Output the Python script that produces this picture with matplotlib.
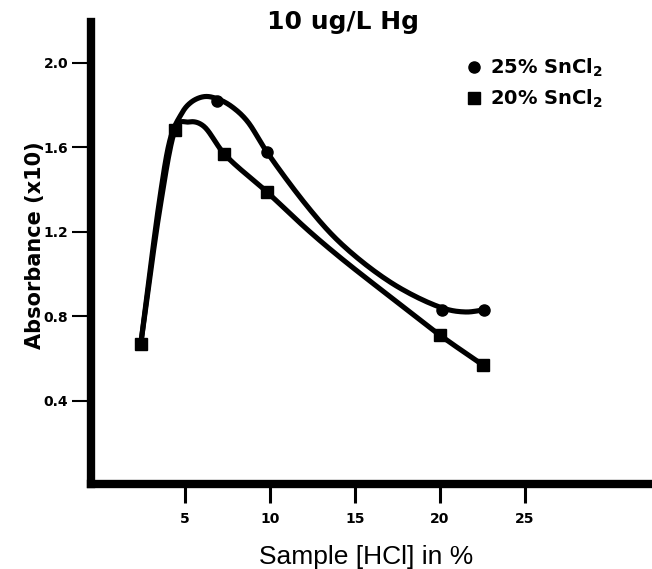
import numpy as np
import matplotlib.pyplot as plt

# puntos medidos (marcadores)
hcl_25 = [6.9, 9.8, 20.1, 22.6]
abs_25 = [1.82, 1.58, 0.83, 0.83]
hcl_20 = [2.4, 4.4, 7.3, 9.8, 20.0, 22.5]
abs_20 = [0.67, 1.68, 1.57, 1.39, 0.71, 0.57]

# trazo de las curvas dibujadas a mano
curva_25_x = [2.4, 3.5, 4.1, 4.8, 5.3, 6.1, 6.9, 7.8, 8.7, 9.8, 12.2, 14.1, 17.1, 20.1, 21.5, 22.6]
curva_25_y = [0.67, 1.35, 1.63, 1.76, 1.81, 1.84, 1.83, 1.79, 1.72, 1.58, 1.32, 1.15, 0.96, 0.84, 0.82, 0.83]
curva_20_x = [2.4, 3.5, 4.4, 5.2, 6.1, 7.3, 9.8, 12.2, 14.1, 17.1, 20.0, 22.5]
curva_20_y = [0.67, 1.30, 1.68, 1.72, 1.70, 1.57, 1.39, 1.21, 1.08, 0.89, 0.71, 0.57]

xticks = [5, 10, 15, 20, 25]
yticks = [0.4, 0.8, 1.2, 1.6, 2.0]


def suavizar(x, y, n=20):
    # catmull-rom centripeto entre los puntos del trazo
    p = np.column_stack([x, y]).astype(float)
    p = np.vstack([2 * p[0] - p[1], p, 2 * p[-1] - p[-2]])
    out = []
    for i in range(1, len(p) - 2):
        p0, p1, p2, p3 = p[i - 1], p[i], p[i + 1], p[i + 2]
        t0 = 0.0
        t1 = t0 + np.linalg.norm(p1 - p0) ** 0.5
        t2 = t1 + np.linalg.norm(p2 - p1) ** 0.5
        t3 = t2 + np.linalg.norm(p3 - p2) ** 0.5
        t = np.linspace(t1, t2, n)[:, None]
        a1 = (t1 - t) / (t1 - t0) * p0 + (t - t0) / (t1 - t0) * p1
        a2 = (t2 - t) / (t2 - t1) * p1 + (t - t1) / (t2 - t1) * p2
        a3 = (t3 - t) / (t3 - t2) * p2 + (t - t2) / (t3 - t2) * p3
        b1 = (t2 - t) / (t2 - t0) * a1 + (t - t0) / (t2 - t0) * a2
        b2 = (t3 - t) / (t3 - t1) * a2 + (t - t1) / (t3 - t1) * a3
        out.append((t2 - t) / (t2 - t1) * b1 + (t - t1) / (t2 - t1) * b2)
    out = np.vstack(out)
    return out[:, 0], out[:, 1]


plt.rcParams['font.family'] = ['DejaVu Sans']

fig = plt.figure(figsize=(6.52, 5.69), dpi=100)
ax = fig.add_axes([0.1396, 0.1494, 0.8604, 0.812])

xs, ys = suavizar(curva_25_x, curva_25_y)
ax.plot(xs, ys, color='black', lw=3.7, solid_capstyle='round')
xs, ys = suavizar(curva_20_x, curva_20_y)
ax.plot(xs, ys, color='black', lw=3.7, solid_capstyle='round')

ax.plot(hcl_25, abs_25, 'o', color='black', ms=8, label=r'25% SnCl$_{\mathbf{2}}$')
ax.plot(hcl_20, abs_20, 's', color='black', ms=8.5, label=r'20% SnCl$_{\mathbf{2}}$')

ax.set_xlim(-0.53, 32.47)
ax.set_ylim(0.005, 2.194)
ax.set_xticks(xticks)
ax.set_xticklabels([str(t) for t in xticks], fontweight='bold', fontsize=10)
ax.set_yticks(yticks)
ax.set_yticklabels([f'{t:.1f}' for t in yticks], fontweight='bold', fontsize=10)
ax.tick_params(axis='x', direction='out', length=13.5, width=2.2, pad=7)
ax.tick_params(axis='y', direction='out', length=13.5, width=1.5, pad=3)

for s in ['top', 'right']:
    ax.spines[s].set_visible(False)
for s in ['left', 'bottom']:
    ax.spines[s].set_linewidth(6)

ax.legend(loc='upper left', bbox_to_anchor=(0.67, 0.925), frameon=False,
          borderpad=0, borderaxespad=0, handlelength=0.7, handletextpad=0.5,
          labelspacing=0.45, prop={'weight': 'bold', 'size': 14})

fig.text(343 / 652, 1 - 29 / 569, '10 ug/L Hg', ha='center', va='baseline',
         fontsize=18, fontweight='bold')
fig.text(35.5 / 652, 1 - 245 / 569, 'Absorbance (x10)', rotation=90, ha='center',
         va='center', fontsize=15, fontweight='bold')
fig.text(366 / 652, 1 - 557 / 569, 'Sample [HCl] in %', ha='center', va='center',
         fontsize=19, family=['Liberation Sans', 'DejaVu Sans'])

fig.savefig('out.png', dpi=100)
